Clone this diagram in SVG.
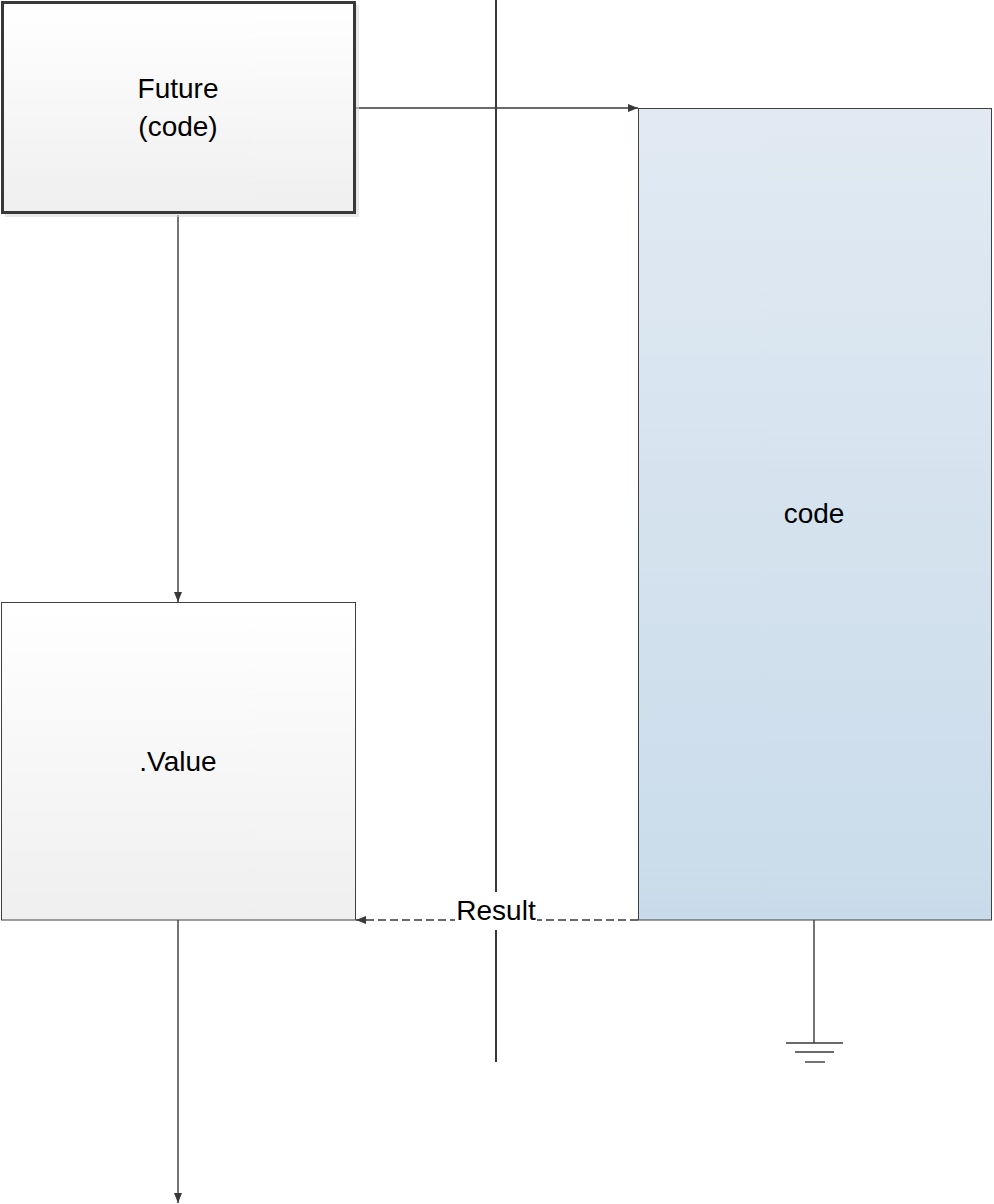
<svg xmlns="http://www.w3.org/2000/svg" width="994" height="1204" viewBox="0 0 994 1204">
<defs>
<linearGradient id="gGrey" x1="0" y1="0" x2="0" y2="1">
<stop offset="0" stop-color="#ffffff"/>
<stop offset="1" stop-color="#efefef"/>
</linearGradient>
<linearGradient id="gBlue" x1="0" y1="0" x2="0" y2="1">
<stop offset="0" stop-color="#e1eaf3"/>
<stop offset="1" stop-color="#c9dbea"/>
</linearGradient>
<marker id="arr" viewBox="0 0 10 10" refX="10" refY="5" markerWidth="10" markerHeight="10" markerUnits="userSpaceOnUse" orient="auto">
<path d="M0,1 L10,5 L0,9 Z" fill="#383838"/>
</marker>
<style>
.t{font-family:"Liberation Sans",Arial,sans-serif;font-size:28px;fill:#000;text-anchor:middle}
.c{stroke:#383838;stroke-width:1.4;fill:none}
</style>
</defs>
<rect width="994" height="1204" fill="#fff"/>
<g id="divider">
<line x1="496" y1="0" x2="496" y2="1062" stroke="#383838" stroke-width="2"/>
</g>
<g id="connectors">
<line class="c" x1="356" y1="108" x2="638" y2="108" marker-end="url(#arr)"/>
<line class="c" x1="178" y1="215" x2="178" y2="602" marker-end="url(#arr)"/>
<line class="c" x1="638" y1="920" x2="356" y2="920" stroke-dasharray="8 4" marker-end="url(#arr)"/>
<line class="c" x1="178" y1="920" x2="178" y2="1203" marker-end="url(#arr)"/>
<line class="c" x1="814" y1="920" x2="814" y2="1043"/>
<line class="c" x1="786" y1="1043" x2="843" y2="1043"/>
<line class="c" x1="795" y1="1052" x2="834" y2="1052"/>
<line class="c" x1="805" y1="1062" x2="825" y2="1062"/>
<rect x="455" y="892" width="82" height="38" fill="#fff"/>
<text class="t" x="496" y="920">Result</text>
</g>
<g id="future">
<rect x="5" y="5" width="354" height="212" fill="#d9d9d9" opacity="0.6"/>
<rect x="2.5" y="2.5" width="352" height="210" fill="url(#gGrey)" stroke="#383838" stroke-width="3"/>
<text class="t" x="178" y="98">Future</text>
<text class="t" x="178" y="136">(code)</text>
</g>
<g id="value">
<rect x="1.5" y="602.5" width="354" height="317.5" fill="url(#gGrey)" stroke="#404040" stroke-width="1"/>
<text class="t" x="178" y="771">.Value</text>
</g>
<g id="code">
<rect x="638.5" y="108.5" width="353" height="811.5" fill="url(#gBlue)" stroke="#404040" stroke-width="1"/>
<text class="t" x="814" y="523">code</text>
</g>
</svg>
